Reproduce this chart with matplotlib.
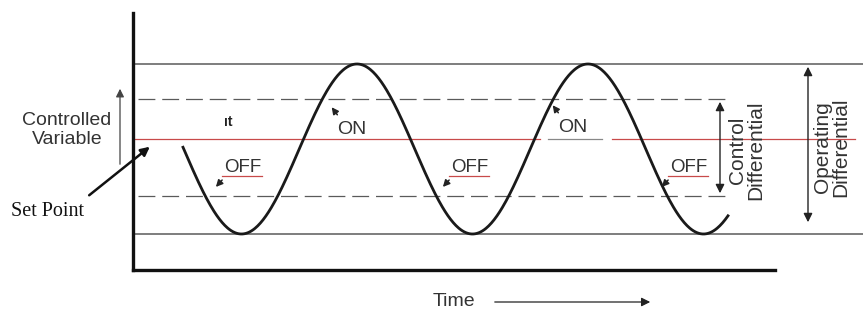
import matplotlib
matplotlib.use("Agg")
import matplotlib.pyplot as plt
import numpy as np

# levels of the controlled variable, set point = 0
set_point = 0
operating_band = [75, -95]     # top / bottom of the swing
control_band = [40, -57]       # switch on / switch off levels
wave_center = -10
wave_amplitude = 85
wave_period = 231
wave_peak = 224                # time of first peak
wave_span = [50, 595]          # start / end of the drawn wave

on_labels = [(219, 9), (440, 11)]
off_labels = [(110, -28), (337, -28), (556, -28)]

SANS = "Liberation Sans"
SERIF = "Liberation Serif"
GREY = "#5a5a5a"
TXT = "#333333"


def main():
    fig = plt.figure(figsize=(8.63, 3.11), dpi=100)
    ax = fig.add_axes([133 / 863, 41 / 311, 642 / 863, 257 / 311])
    ax.set_xlim(0, 642)
    ax.set_ylim(-131, 126)
    for s in ["top", "right"]:
        ax.spines[s].set_visible(False)
    for s in ["left", "bottom"]:
        ax.spines[s].set_linewidth(2.4)
        ax.spines[s].set_color("#111111")
    ax.set_xticks([])
    ax.set_yticks([])

    # band lines
    for lvl in operating_band:
        ax.plot([0, 730], [lvl, lvl], color=GREY, lw=1.1, clip_on=False)
    for lvl in control_band:
        ax.plot([5, 597], [lvl, lvl], color=GREY, lw=0.9, ls=(0, (13.5, 5.5)), clip_on=False)

    # set point line (gap around the second ON label)
    ax.plot([0, 407], [set_point, set_point], color="#c84a4a", lw=0.9, clip_on=False)
    ax.plot([479, 722], [set_point, set_point], color="#c84a4a", lw=0.9, clip_on=False)
    ax.plot([415, 469], [set_point, set_point], color="#888888", lw=0.9)

    # controlled variable
    t = np.linspace(wave_span[0], wave_span[1], 600)
    y = wave_center + wave_amplitude * np.cos(2 * np.pi * (t - wave_peak) / wave_period)
    ax.plot(t, y, color="#1a1a1a", lw=2.0)

    # ON / OFF labels
    for x, yy in on_labels:
        ax.text(x, yy, "ON", ha="center", va="center", fontsize=14, color=TXT, family=SANS)
        ax.annotate("", xy=(x - 22, yy + 25), xytext=(x - 13, yy + 13),
                    arrowprops=dict(arrowstyle="-|>", color="#222222", lw=1.1, mutation_scale=10))
    for x, yy in off_labels:
        ax.text(x, yy, "OFF", ha="center", va="center", fontsize=13.5, color=TXT, family=SANS)
        ax.plot([x - 21, x + 19], [yy - 9, yy - 9], color="#c84a4a", lw=0.9)
        ax.annotate("", xy=(x - 29, yy - 22), xytext=(x - 19, yy - 11),
                    arrowprops=dict(arrowstyle="-|>", color="#222222", lw=1.1, mutation_scale=10))
    ax.text(95, 17, "ıt", ha="center", va="center", fontsize=10, color="#222222",
            family=SANS, fontweight="bold")

    # differentials
    ax.annotate("", xy=(587, control_band[0]), xytext=(587, control_band[1]),
                arrowprops=dict(arrowstyle="<|-|>", color="#222222", lw=1.0, mutation_scale=13),
                annotation_clip=False)
    ax.text(614, -11, "Control\nDifferential", rotation=90, ha="center", va="center",
            fontsize=15, color=TXT, family=SANS, linespacing=0.95, clip_on=False)
    ax.annotate("", xy=(675, operating_band[0]), xytext=(675, -86),
                arrowprops=dict(arrowstyle="<|-|>", color="#222222", lw=1.0, mutation_scale=13),
                annotation_clip=False)
    ax.text(699, -8, "Operating\nDifferential", rotation=90, ha="center", va="center",
            fontsize=15, color=TXT, family=SANS, linespacing=0.95, clip_on=False)

    # left side labels
    ax.text(-66, 9, "Controlled\nVariable", ha="center", va="center", fontsize=14,
            color=TXT, family=SANS, linespacing=1.15, clip_on=False)
    ax.annotate("", xy=(-13, 53), xytext=(-13, -28),
                arrowprops=dict(arrowstyle="-|>", color="#444444", lw=0.9, mutation_scale=12),
                annotation_clip=False)
    ax.text(-122, -73, "Set Point", ha="left", va="center", fontsize=14.5, color="#111111",
            family=SERIF, clip_on=False)
    ax.annotate("", xy=(19, -6), xytext=(-46, -58),
                arrowprops=dict(arrowstyle="-|>", color="#111111", lw=1.8, mutation_scale=13),
                annotation_clip=False)

    # time axis label
    ax.text(321, -163, "Time", ha="center", va="center", fontsize=14, color=TXT,
            family=SANS, clip_on=False)
    ax.annotate("", xy=(520, -163), xytext=(359, -163),
                arrowprops=dict(arrowstyle="-|>", color="#222222", lw=0.9, mutation_scale=13),
                annotation_clip=False)

    fig.savefig("out.png", dpi=100, facecolor="white")


if __name__ == "__main__":
    main()
